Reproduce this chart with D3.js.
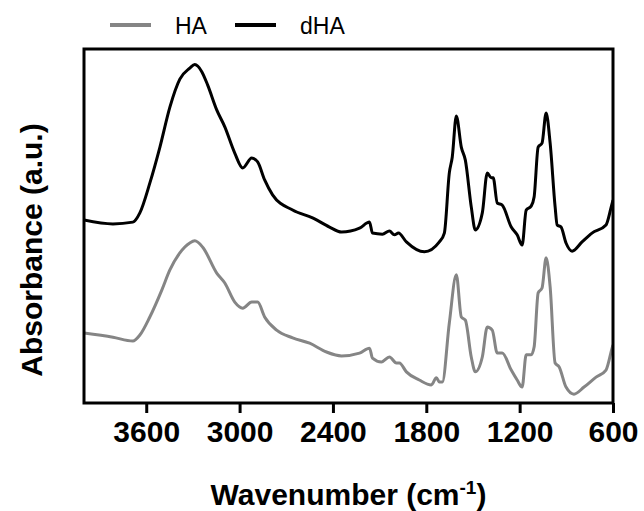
<!DOCTYPE html>
<html>
<head>
<meta charset="utf-8">
<script src="https://cdn.jsdelivr.net/npm/d3@7"></script>
<style>
  html, body { margin: 0; padding: 0; background: #fff; }
  svg { display: block; }
  text { font-family: "Liberation Sans", Arial, sans-serif; }
</style>
</head>
<body>
<svg id="chart" width="644" height="511"></svg>
<script>
// ---- data ----
const seriesNames = ["HA", "dHA"];
const xTicks = [3600, 3000, 2400, 1800, 1200, 600];

const dhaWavenumber = [4000, 3814, 3686, 3641, 3577, 3512, 3448, 3384, 3320, 3288, 3243, 3205, 3147, 3095, 3031, 2980, 2922, 2884, 2839, 2788, 2659, 2531, 2422, 2345, 2229, 2165, 2146, 2082, 2037, 2005, 1979, 1928, 1812, 1716, 1684, 1652, 1633, 1607, 1575, 1549, 1511, 1485, 1440, 1408, 1383, 1370, 1344, 1312, 1254, 1216, 1184, 1158, 1126, 1107, 1081, 1056, 1030, 1004, 972, 959, 934, 902, 863, 799, 735, 645, 613, 600];
const dhaAbsorbance = [51.7, 50.6, 51.1, 53.7, 62.1, 72.3, 83.6, 91.5, 94.6, 95.6, 93.6, 89.8, 82.8, 78.0, 70.6, 66.4, 69.2, 68.1, 63.0, 58.8, 54.5, 52.3, 49.7, 48.3, 49.4, 51.1, 48.0, 47.7, 48.6, 47.5, 48.0, 45.5, 42.7, 45.5, 48.0, 65.0, 69.5, 81.1, 72.3, 68.6, 55.4, 48.9, 53.7, 65.0, 63.6, 63.6, 56.5, 55.9, 49.7, 47.5, 44.6, 54.5, 55.6, 58.2, 72.3, 73.4, 81.9, 73.4, 55.4, 50.3, 49.7, 45.2, 42.9, 45.5, 48.0, 50.3, 55.1, 57.3];

const haWavenumber = [4000, 3814, 3686, 3641, 3577, 3500, 3448, 3384, 3320, 3288, 3237, 3147, 3095, 3031, 2980, 2922, 2884, 2839, 2762, 2659, 2550, 2441, 2345, 2229, 2165, 2146, 2088, 2037, 1992, 1973, 1928, 1845, 1768, 1735, 1716, 1697, 1652, 1607, 1575, 1549, 1511, 1485, 1440, 1408, 1376, 1344, 1312, 1254, 1216, 1184, 1158, 1126, 1107, 1081, 1056, 1030, 1004, 972, 946, 902, 851, 786, 709, 645, 606, 600];
const haAbsorbance = [19.8, 18.6, 17.5, 19.2, 24.3, 31.9, 37.6, 42.4, 45.2, 45.8, 44.0, 36.7, 33.9, 28.5, 26.8, 28.5, 28.5, 24.3, 20.6, 18.4, 16.9, 14.4, 13.3, 14.1, 15.5, 12.7, 11.6, 13.0, 11.3, 11.3, 8.8, 6.5, 5.1, 7.1, 5.9, 5.9, 22.6, 36.2, 24.3, 23.4, 13.0, 8.8, 13.0, 21.5, 20.6, 14.1, 14.1, 9.3, 6.5, 4.5, 13.6, 13.6, 15.8, 31.1, 32.5, 41.0, 32.8, 11.3, 10.2, 4.5, 2.5, 4.5, 7.3, 9.3, 15.5, 16.4];

const seriesColors = ["#858585", "#000000"];

// ---- layout ----
const svg = d3.select("#chart");
const plotLeft = 84, plotRight = 613, plotTop = 49, plotBottom = 403;

const x = d3.scaleLinear().domain([4000, 600]).range([plotLeft, plotRight]);
const y = d3.scaleLinear().domain([0, 100]).range([plotBottom, plotTop]);

const line = d3.line()
  .x(d => x(d[0]))
  .y(d => y(d[1]))
  .curve(d3.curveMonotoneX);

const haData = haWavenumber.map((w, i) => [w, haAbsorbance[i]]);
const dhaData = dhaWavenumber.map((w, i) => [w, dhaAbsorbance[i]]);

svg.append("clipPath").attr("id", "plotclip")
  .append("rect").attr("x", plotLeft).attr("y", plotTop)
  .attr("width", plotRight - plotLeft).attr("height", plotBottom - plotTop);

const g = svg.append("g").attr("clip-path", "url(#plotclip)");
g.append("path").datum(haData)
  .attr("d", line).attr("fill", "none")
  .attr("stroke", seriesColors[0]).attr("stroke-width", 3).attr("stroke-linejoin", "round");
g.append("path").datum(dhaData)
  .attr("d", line).attr("fill", "none")
  .attr("stroke", seriesColors[1]).attr("stroke-width", 3).attr("stroke-linejoin", "round");

// frame
svg.append("rect")
  .attr("x", plotLeft).attr("y", plotTop)
  .attr("width", plotRight - plotLeft).attr("height", plotBottom - plotTop)
  .attr("fill", "none").attr("stroke", "#000").attr("stroke-width", 3);

// x axis
const xAxis = d3.axisBottom(x).tickValues(xTicks).tickSize(10).tickPadding(8).tickFormat(d3.format("d"));
const ax = svg.append("g").attr("transform", `translate(0,${plotBottom})`).call(xAxis);
ax.select(".domain").remove();
ax.selectAll(".tick line").attr("stroke", "#000").attr("stroke-width", 3);
ax.selectAll(".tick text")
  .attr("fill", "#000")
  .style("font-family", "'Liberation Sans', Arial, sans-serif")
  .style("font-size", "30px").style("font-weight", "bold");

// axis titles
const xt = svg.append("text")
  .attr("x", (plotLeft + plotRight) / 2).attr("y", 505)
  .attr("text-anchor", "middle")
  .style("font-size", "30px").style("font-weight", "bold").attr("fill", "#000");
xt.append("tspan").text("Wavenumber (cm");
xt.append("tspan").text("-1").attr("dy", -11).style("font-size", "19px");
xt.append("tspan").text(")").attr("dy", 11);

svg.append("text")
  .attr("transform", `translate(42,250) rotate(-90)`)
  .attr("text-anchor", "middle")
  .style("font-size", "30px").style("font-weight", "bold").attr("fill", "#000")
  .text("Absorbance (a.u.)");

// legend
const legendX = [110, 235];
const legend = svg.append("g");
seriesNames.forEach((name, i) => {
  legend.append("line")
    .attr("x1", legendX[i]).attr("x2", legendX[i] + 41)
    .attr("y1", 25).attr("y2", 25)
    .attr("stroke", seriesColors[i]).attr("stroke-width", 4);
  legend.append("text")
    .attr("x", legendX[i] + 65).attr("y", 34)
    .style("font-size", "23px").attr("fill", "#000")
    .text(name);
});
</script>
</body>
</html>
